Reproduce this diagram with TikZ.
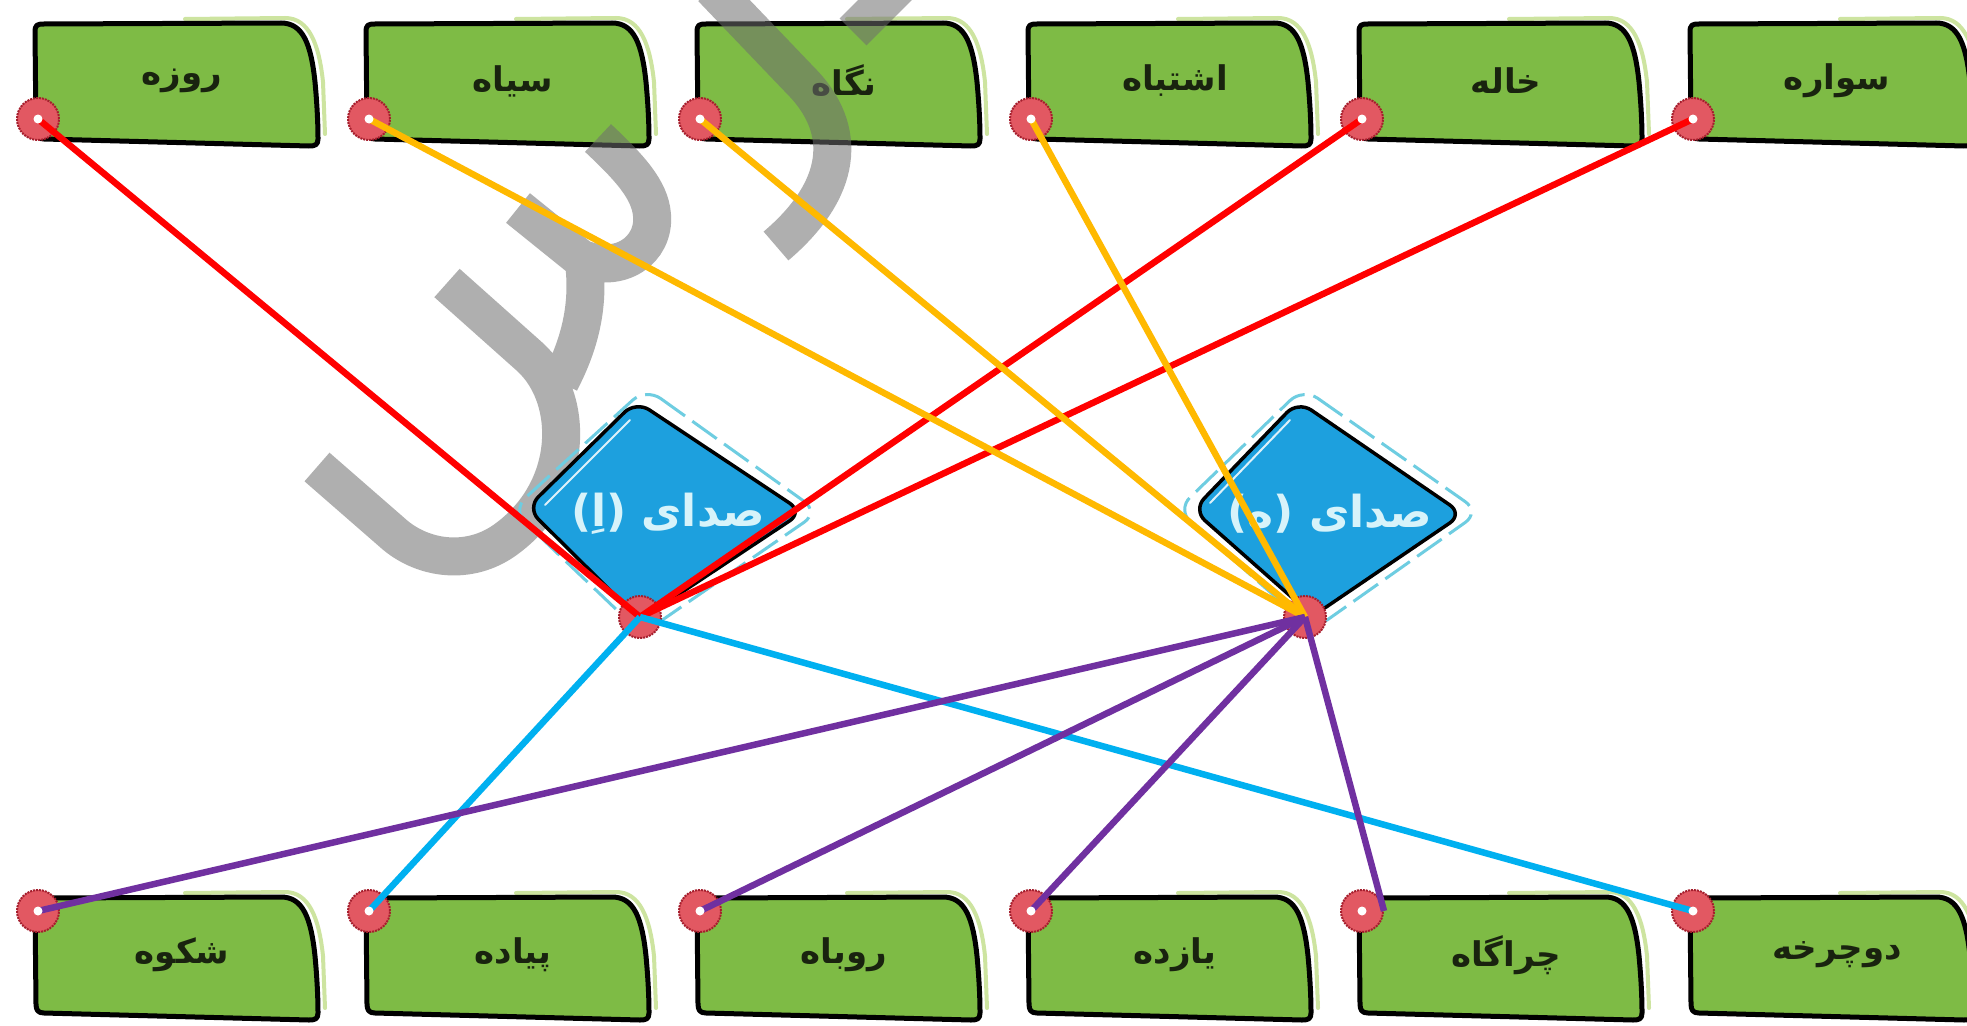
\documentclass[tikz,border=0pt]{standalone}
\usepackage{fontspec}
\TeXXeTstate=1
\newfontfamily\arabicfont[Script=Arabic]{DejaVu Sans}
\definecolor{boxgreen}{RGB}{126,187,69}
\definecolor{boxshade}{RGB}{205,228,160}
\definecolor{diablue}{RGB}{29,160,222}
\definecolor{diadash}{RGB}{110,205,225}
\definecolor{dotred}{RGB}{226,88,98}
\definecolor{dotdark}{RGB}{165,30,45}
\definecolor{lred}{RGB}{255,0,0}
\definecolor{lgold}{RGB}{255,185,0}
\definecolor{lblue}{RGB}{0,176,240}
\definecolor{lpurple}{RGB}{112,48,160}
\definecolor{wmgray}{RGB}{110,110,110}
\definecolor{wordcol}{RGB}{25,35,15}
\definecolor{diatext}{RGB}{215,243,250}
\tikzset{
  boxbody/.style={fill=boxgreen, draw=black, line width=5, line join=round},
  boxshadow/.style={draw=boxshade, line width=4, line cap=round},
  word/.style={font=\arabicfont\bfseries\fontsize{34}{40}\selectfont, text=wordcol, inner sep=0pt},
  reddot/.style={circle, minimum size=42pt, inner sep=0pt, fill=dotred, draw=dotdark, line width=2, densely dotted},
  diabody/.style={fill=diablue, draw=black, line width=3.5, rounded corners=16, line join=round},
  diaouter/.style={draw=diadash, line width=3, dash pattern=on 30pt off 9pt, rounded corners=18},
  diahigh/.style={draw=white!85!diablue, line width=2, line cap=round},
  diaword/.style={font=\arabicfont\bfseries\fontsize{44}{50}\selectfont, text=diatext, inner sep=0pt},
  wm/.style={draw=wmgray, line width=38, draw opacity=0.55},
  link/.style={line width=6.5},
}
\newcommand\wordbox[7]{% #1 x, #2 y, #3 word name, #4 dot name, #5 dot y, #6 text y, #7 text
  \begin{scope}[shift={(#1,#2)}]
    \path[boxshadow] (150,-3) -- (250,-4) .. controls (274,-4) and (284,22) .. (288,60) -- (290,112);
    \path[boxbody] (0,10) .. controls (0,3) and (2,2) .. (9,2) -- (246,1)
      .. controls (268,1) and (276,22) .. (280,60)
      .. controls (283,92) and (283,112) .. (283,117)
      .. controls (283,123) and (280,124) .. (274,124) -- (9,117)
      .. controls (3,117) and (1,114) .. (1,108) -- cycle;
    \node[word] (#3) at (147,#6) {\beginR #7\endR};
    \node[reddot] (#4) at (3,#5) {};
  \end{scope}}
\begin{document}
\begin{tikzpicture}[x=1pt,y=-1pt]
\useasboundingbox (0,0) rectangle (1967,1025);
\clip (0,0) rectangle (1967,1025);
\fill[white] (0,0) rectangle (1967,1025);
% top row
\wordbox{35}{22}{tw1}{td1}{97}{59}{روزه}
\wordbox{366}{22}{tw2}{td2}{97}{59}{سیاه}
\wordbox{697}{22}{tw3}{td3}{97}{59}{نگاه}
\wordbox{1028}{22}{tw4}{td4}{97}{59}{اشتباه}
\wordbox{1359}{22}{tw5}{td5}{97}{59}{خاله}
\wordbox{1690}{22}{tw6}{td6}{97}{59}{سواره}
% bottom row
\wordbox{35}{896}{bw1}{bd1}{15}{59}{شکوه}
\wordbox{366}{896}{bw2}{bd2}{15}{59}{پیاده}
\wordbox{697}{896}{bw3}{bd3}{15}{59}{روباه}
\wordbox{1028}{896}{bw4}{bd4}{15}{59}{یازده}
\wordbox{1359}{896}{bw5}{bd5}{15}{59}{چراگاه}
\wordbox{1690}{896}{bw6}{bd6}{15}{59}{دوچرخه}
% watermark
\path[wm] (447,283) -- (530,357) .. controls (575,398) and (575,490) .. (505,540)
      .. controls (470,565) and (425,560) .. (395,535) -- (317,467)
  (518,208) -- (580,258) .. controls (620,275) and (655,250) .. (652,215)
      .. controls (650,190) and (630,168) .. (598,138)
  (583,255) .. controls (590,300) and (582,340) .. (560,382)
  (712,-12) -- (800,80) .. controls (850,130) and (842,190) .. (776,246)
  (853,32) -- (900,-15);
% diamonds
\path[diaouter] (646,388) -- (819,512) -- (642,634) -- (512,510) -- cycle;
\path[diabody] (636,401) -- (803,512) -- (640,620) -- (527,508) -- cycle;
\path[diahigh] (545,505) -- (630,420);
\node[diaword] (dA) at (668,514) {\beginR صدای (اِ)\endR};
\node[reddot] (pA) at (640,617) {};
\path[diaouter] (1303,388) -- (1480,512) -- (1313,630) -- (1177,510) -- cycle;
\path[diabody] (1298,401) -- (1463,514) -- (1313,616) -- (1193,510) -- cycle;
\path[diahigh] (1210,503) -- (1290,420);
\node[diaword] (dB) at (1330,514) {\beginR صدای (ه)\endR};
\node[reddot] (pB) at (1305,617) {};
% links
\draw[link, lred] (td1.center) -- (pA.center);
\draw[link, lred] (td5.center) -- (pA.center);
\draw[link, lred] (td6.center) -- (pA.center);
\draw[link, lgold] (td2.center) -- (pB.center);
\draw[link, lgold] (td3.center) -- (pB.center);
\draw[link, lgold] (td4.center) -- (pB.center);
\draw[link, lblue] (pA.center) -- (bd2.center);
\draw[link, lblue] (pA.center) -- (bd6.center);
\draw[link, lpurple] (pB.center) -- (bd1.center);
\draw[link, lpurple] (pB.center) -- (bd3.center);
\draw[link, lpurple] (pB.center) -- (bd4.center);
\draw[link, lpurple] (pB.center) -- (bd5.east);
\foreach \n in {td1,td2,td3,td4,td5,td6,bd1,bd2,bd3,bd4,bd5,bd6}
  \fill[white] (\n.center) circle (4.5);
\end{tikzpicture}
\end{document}
